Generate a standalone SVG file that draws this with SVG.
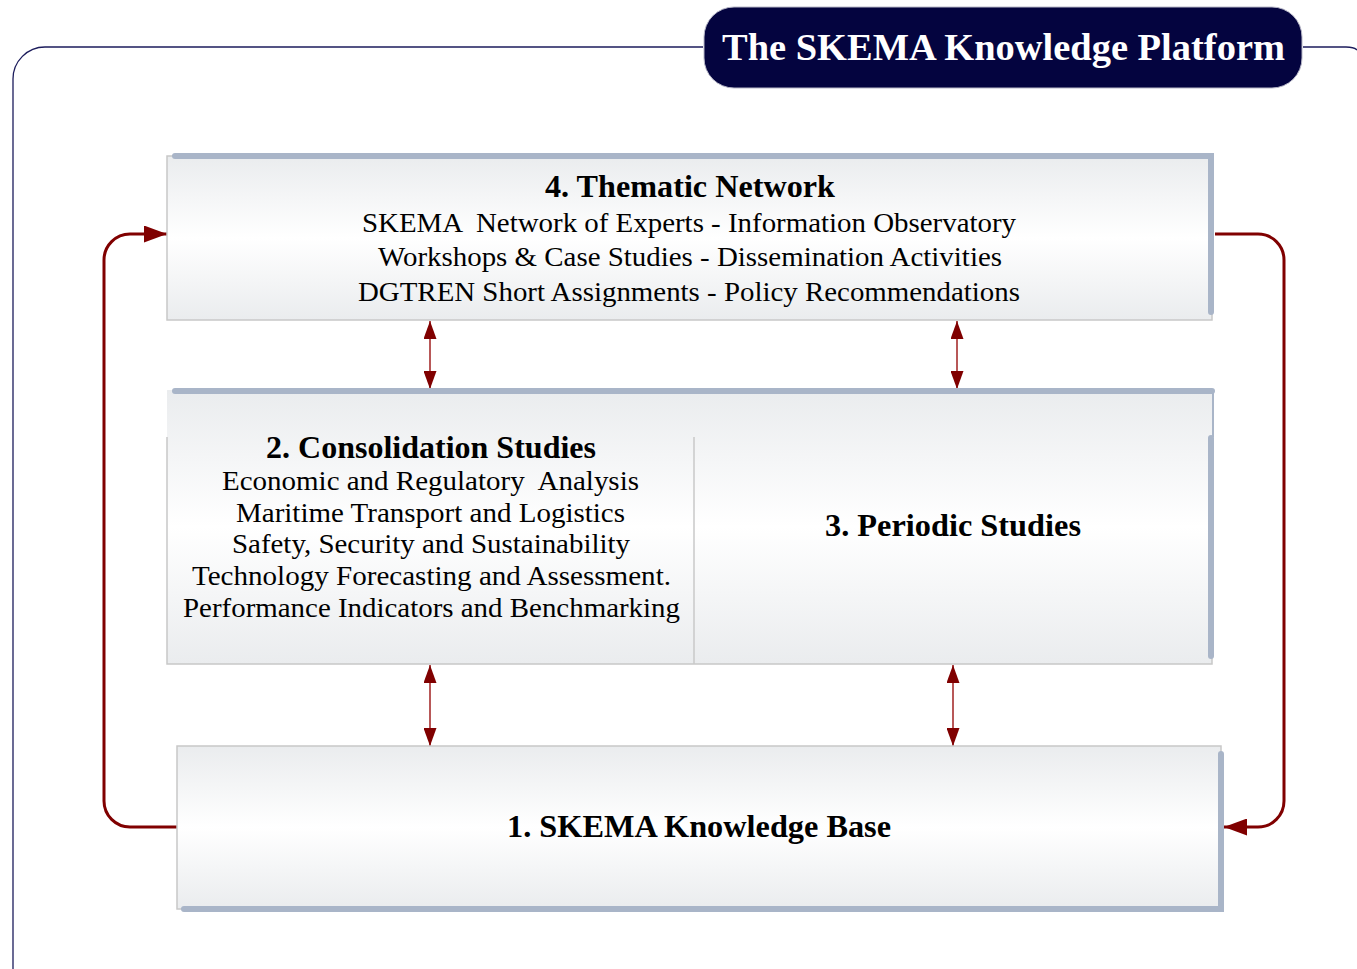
<svg xmlns="http://www.w3.org/2000/svg" width="1357" height="969" viewBox="0 0 1357 969">
<defs>
<linearGradient id="g" x1="0" y1="0" x2="0" y2="1">
<stop offset="0" stop-color="#eaecee"/>
<stop offset="0.5" stop-color="#ffffff"/>
<stop offset="1" stop-color="#eaecee"/>
</linearGradient>
<marker id="big" viewBox="0 0 23 17" refX="23" refY="8.5" markerWidth="23" markerHeight="17" markerUnits="userSpaceOnUse" orient="auto">
<path d="M0,0 L23,8.5 L0,17 z" fill="#800000"/>
</marker>
<marker id="sm" viewBox="0 0 18 13" refX="18" refY="6.5" markerWidth="18" markerHeight="13" markerUnits="userSpaceOnUse" orient="auto-start-reverse">
<path d="M0,0 L18,6.5 L0,13 z" fill="#800000"/>
</marker>
</defs>
<style>
.frame{fill:none;stroke:#1c1c5c;stroke-width:1.3}
.box{fill:url(#g);stroke:#c8c8c8;stroke-width:1.5}
.bar{stroke:#a9b5c8;stroke-width:6;stroke-linecap:round;fill:none}
.t{font-family:"Liberation Serif","Times New Roman",serif;fill:#000;text-anchor:middle}
.h{font-weight:bold;font-size:31px}
.b{font-size:28px}
.loop{fill:none;stroke:#800000;stroke-width:3}
.dbl{fill:none;stroke:#a02020;stroke-width:1.5}
</style>
<path class="frame" d="M703,47 H45 A32,32 0 0 0 13,79 V969"/>
<path class="frame" d="M1303,47 H1346 Q1354,47 1357,50"/>
<g id="title">
<rect x="704" y="7" width="598" height="81" rx="30" ry="30" fill="#04043f" stroke="#b8b8c8" stroke-width="1"/>
<text x="1003.5" y="60" class="t" style="font-size:38px;font-weight:bold;fill:#fff" textLength="563" lengthAdjust="spacingAndGlyphs">The SKEMA Knowledge Platform</text>
</g>
<g id="connectors">
<path class="loop" d="M177,827 H130 A26,26 0 0 1 104,801 V260 A26,26 0 0 1 130,234 H167" marker-end="url(#big)"/>
<path class="loop" d="M1215,234 H1258 A26,26 0 0 1 1284,260 V801 A26,26 0 0 1 1258,827 H1224" marker-end="url(#big)"/>
<path class="dbl" d="M430,321 V389" marker-start="url(#sm)" marker-end="url(#sm)"/>
<path class="dbl" d="M957,321 V389" marker-start="url(#sm)" marker-end="url(#sm)"/>
<path class="dbl" d="M430,665 V746" marker-start="url(#sm)" marker-end="url(#sm)"/>
<path class="dbl" d="M953,665 V746" marker-start="url(#sm)" marker-end="url(#sm)"/>
</g>
<g id="n4">
<rect class="box" x="167" y="156" width="1045" height="164"/>
<path class="bar" d="M175,156 H1211 V312"/>
<text class="t h" x="690" y="197" textLength="290" lengthAdjust="spacingAndGlyphs">4. Thematic Network</text>
<text class="t b" x="689" y="232" xml:space="preserve" textLength="654" lengthAdjust="spacingAndGlyphs">SKEMA  Network of Experts - Information Observatory</text>
<text class="t b" x="690" y="266" textLength="624" lengthAdjust="spacingAndGlyphs">Workshops &amp; Case Studies - Dissemination Activities</text>
<text class="t b" x="689" y="301" textLength="662" lengthAdjust="spacingAndGlyphs">DGTREN Short Assignments - Policy Recommendations</text>
</g>
<g id="n23">
<rect x="167" y="390" width="1045" height="274" fill="url(#g)"/>
<path d="M167,437 V664 H1212 V437" fill="none" stroke="#c8c8c8" stroke-width="1.5"/>
<path d="M694,437 V664" stroke="#c8c8c8" stroke-width="1.5"/>
<path d="M1213,390 V437" stroke="#a9b5c8" stroke-width="2"/>
<path class="bar" d="M175,391 H1212"/>
<path class="bar" d="M1211,438 V656"/>
</g>
<g id="n2">
<text class="t h" x="431" y="458" textLength="330" lengthAdjust="spacingAndGlyphs">2. Consolidation Studies</text>
<text class="t b" x="430.5" y="490" xml:space="preserve" textLength="417" lengthAdjust="spacingAndGlyphs">Economic and Regulatory  Analysis</text>
<text class="t b" x="430.5" y="522" textLength="389" lengthAdjust="spacingAndGlyphs">Maritime Transport and Logistics</text>
<text class="t b" x="431" y="553" textLength="398" lengthAdjust="spacingAndGlyphs">Safety, Security and Sustainability</text>
<text class="t b" x="431.5" y="585" textLength="479" lengthAdjust="spacingAndGlyphs">Technology Forecasting and Assessment.</text>
<text class="t b" x="431.5" y="617" textLength="497" lengthAdjust="spacingAndGlyphs">Performance Indicators and Benchmarking</text>
</g>
<g id="n3">
<text class="t h" x="953" y="536" textLength="256" lengthAdjust="spacingAndGlyphs">3. Periodic Studies</text>
</g>
<g id="n1">
<rect class="box" x="177" y="746" width="1044" height="163"/>
<path class="bar" d="M184,909 H1221 V754"/>
<text class="t h" x="699" y="837" textLength="384" lengthAdjust="spacingAndGlyphs">1. SKEMA Knowledge Base</text>
</g>
</svg>
